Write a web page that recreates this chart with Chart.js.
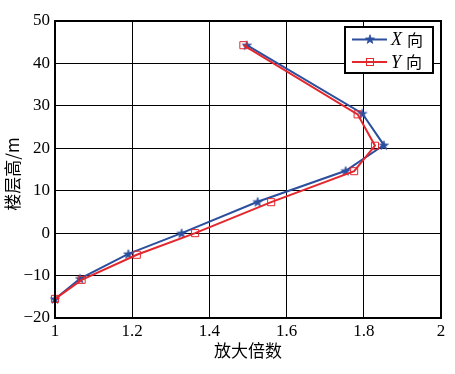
<!DOCTYPE html>
<html>
<head>
<meta charset="utf-8">
<script src="https://cdn.jsdelivr.net/npm/chart.js@4"></script>
<style>
html,body{margin:0;padding:0;background:#fff;}
canvas{display:block;}
</style>
</head>
<body>
<canvas id="c" width="455" height="374"></canvas>
<script>
// ---- data ----
const seriesNames = ['X', 'Y'];
const xDirFactor = [1.0, 1.065, 1.19, 1.328, 1.525, 1.753, 1.852, 1.796, 1.497];
const xDirHeight = [-15.5, -10.7, -4.9, 0, 7.4, 14.7, 20.75, 28.2, 44.3];
const yDirFactor = [1.0, 1.069, 1.212, 1.363, 1.56, 1.775, 1.829, 1.784, 1.488];
const yDirHeight = [-15.5, -11.0, -5.1, 0, 7.3, 14.6, 20.6, 28.0, 44.3];
const xTickValues = [1, 1.2, 1.4, 1.6, 1.8, 2];
const xTickLabels = ['1', '1.2', '1.4', '1.6', '1.8', '2'];
const yTickValues = [-20, -10, 0, 10, 20, 30, 40, 50];
const yTickLabels = ['\u221220', '\u221210', '0', '10', '20', '30', '40', '50'];
const xTitle = '放大倍数';
const yTitle = '楼层高/m';
const legendSuffix = '向';

const BLUE = '#2b4f9e';
const RED = '#e4262d';
const SERIF = '"Liberation Serif", "Times New Roman", serif';
const CJK = '"Noto Sans CJK SC", sans-serif';

function starImage(color) {
  const s = 12, cv = document.createElement('canvas');
  cv.width = s; cv.height = s;
  const g = cv.getContext('2d');
  const cx = s / 2, cy = s / 2 + 0.5, R = 4.8, r = 1.9;
  g.beginPath();
  for (let i = 0; i < 10; i++) {
    const a = -Math.PI / 2 + i * Math.PI / 5;
    const rad = i % 2 === 0 ? R : r;
    const px = cx + rad * Math.cos(a), py = cy + rad * Math.sin(a);
    i === 0 ? g.moveTo(px, py) : g.lineTo(px, py);
  }
  g.closePath();
  g.fillStyle = color; g.fill();
  g.strokeStyle = color; g.lineWidth = 0.8; g.stroke();
  return cv;
}
const star = starImage(BLUE);

const toPts = (xs, ys) => xs.map((v, i) => ({x: v, y: ys[i]}));

const boxPlugin = {
  id: 'boxAndLegend',
  afterDatasetsDraw(chart) {
    const {ctx, chartArea: a} = chart;
    ctx.save();
    ctx.strokeStyle = '#000';
    ctx.lineWidth = 2;
    ctx.strokeRect(a.left, a.top, a.right - a.left, a.bottom - a.top);
    // legend
    const lx = 345, ly = 27, lw = 88, lh = 46;
    ctx.fillStyle = '#fff';
    ctx.fillRect(lx, ly, lw, lh);
    ctx.lineWidth = 2;
    ctx.strokeRect(lx, ly, lw, lh);
    const rows = [
      {y: 39.5, color: BLUE, name: seriesNames[0], marker: 'star'},
      {y: 62, color: RED, name: seriesNames[1], marker: 'rect'}
    ];
    rows.forEach(r => {
      ctx.strokeStyle = r.color;
      ctx.lineWidth = 2;
      ctx.beginPath(); ctx.moveTo(352, r.y); ctx.lineTo(387, r.y); ctx.stroke();
      if (r.marker === 'star') {
        ctx.drawImage(star, 370 - 6, r.y - 6.5);
      } else {
        ctx.lineWidth = 1;
        ctx.strokeRect(366.5, r.y - 3.5, 7, 7);
      }
      ctx.fillStyle = '#000';
      ctx.textBaseline = 'middle';
      ctx.textAlign = 'left';
      ctx.font = 'italic 18px ' + SERIF;
      ctx.fillText(r.name, 391, r.y + 1);
      const w = ctx.measureText(r.name).width;
      ctx.font = '16px ' + CJK;
      ctx.fillText(legendSuffix, 391 + w + 5, r.y);
    });
    ctx.restore();
  },
  afterDraw(chart) {
    const {ctx, chartArea: a} = chart;
    ctx.save();
    ctx.fillStyle = '#000';
    ctx.font = '17px ' + CJK;
    ctx.textAlign = 'center';
    ctx.textBaseline = 'middle';
    ctx.fillText(xTitle, (a.left + a.right) / 2, 351);
    ctx.translate(13, 174);
    ctx.rotate(-Math.PI / 2);
    ctx.fillText(yTitle, 0, 0);
    ctx.restore();
  }
};

new Chart(document.getElementById('c'), {
  type: 'line',
  data: {
    datasets: [
      {
        label: seriesNames[0] + legendSuffix,
        data: toPts(xDirFactor, xDirHeight),
        borderColor: BLUE,
        backgroundColor: BLUE,
        borderWidth: 2,
        pointStyle: star,
        pointRadius: 5,
        tension: 0,
        clip: false,
        order: 1
      },
      {
        label: seriesNames[1] + legendSuffix,
        data: toPts(yDirFactor, yDirHeight),
        borderColor: RED,
        backgroundColor: 'rgba(0,0,0,0)',
        borderWidth: 2,
        pointStyle: 'rect',
        pointRadius: 5,
        pointBorderWidth: 1,
        tension: 0,
        clip: false,
        order: 0
      }
    ]
  },
  options: {
    responsive: false,
    devicePixelRatio: 1,
    animation: false,
    layout: {padding: {top: 21, right: 14, left: 0, bottom: 0}},
    plugins: {legend: {display: false}, tooltip: {enabled: false}},
    scales: {
      x: {
        type: 'linear',
        min: 1, max: 2,
        afterBuildTicks: s => { s.ticks = xTickValues.map(v => ({value: v})); },
        afterFit: s => { s.height = 56; },
        ticks: {
          color: '#000',
          font: {family: SERIF, size: 17},
          padding: 3,
          maxRotation: 0,
          callback: (v) => { const i = xTickValues.indexOf(v); return i >= 0 ? xTickLabels[i] : ''; }
        },
        grid: {color: '#000', lineWidth: 1, drawTicks: false},
        border: {display: true, color: '#000', width: 2}
      },
      y: {
        type: 'linear',
        min: -20, max: 50,
        afterBuildTicks: s => { s.ticks = yTickValues.map(v => ({value: v})); },
        afterFit: s => { s.width = 55; },
        ticks: {
          color: '#000',
          font: {family: SERIF, size: 17},
          padding: 5,
          callback: (v) => { const i = yTickValues.indexOf(v); return i >= 0 ? yTickLabels[i] : ''; }
        },
        grid: {color: '#000', lineWidth: 1, drawTicks: false},
        border: {display: true, color: '#000', width: 2}
      }
    }
  },
  plugins: [boxPlugin]
});
</script>
</body>
</html>
